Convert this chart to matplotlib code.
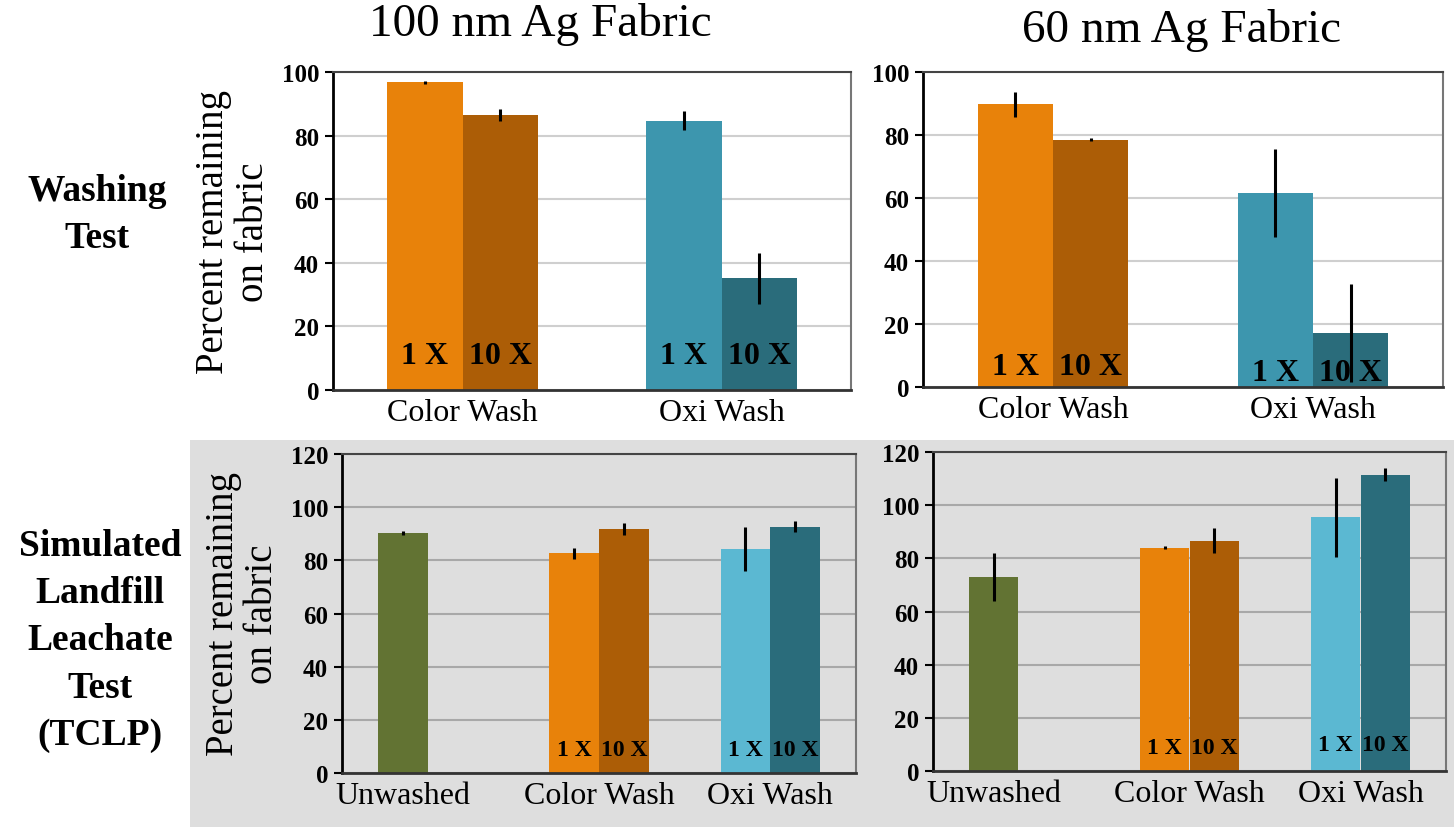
import matplotlib
matplotlib.use("Agg")
import matplotlib.pyplot as plt
import numpy as np
from matplotlib.patches import Rectangle

plt.rcParams['font.family'] = ['Liberation Serif', 'DejaVu Serif']

# Washing test data (percent remaining on fabric)
wash_cats = ['Color Wash', 'Oxi Wash']
wash100_1x = [96.8, 84.7]
wash100_1x_err = [0.5, 3.0]
wash100_10x = [86.5, 35.1]
wash100_10x_err = [2.0, 8.0]
wash60_1x = [89.7, 61.5]
wash60_1x_err = [4.0, 14.0]
wash60_10x = [78.5, 17.2]
wash60_10x_err = [0.5, 15.5]

# TCLP (landfill leachate) data
tclp_cats = ['Unwashed', 'Color Wash', 'Oxi Wash']
tclp100_1x = [90.3, 82.6, 84.3]
tclp100_1x_err = [0.8, 2.0, 8.2]
tclp100_10x = [np.nan, 91.8, 92.7]
tclp100_10x_err = [0, 2.3, 2.0]
tclp60_1x = [73.0, 84.0, 95.4]
tclp60_1x_err = [9.0, 0.5, 15.0]
tclp60_10x = [np.nan, 86.6, 111.5]
tclp60_10x_err = [0, 4.7, 2.4]

col_titles = ['100 nm Ag Fabric', '60 nm Ag Fabric']
row_titles = ['Washing\nTest', 'Simulated\nLandfill\nLeachate\nTest\n(TCLP)']

orange = '#E8820A'
brown = '#AC5D06'
teal = '#3D96AE'
dteal = '#2A6C7B'
lblue = '#5BB8D2'
green = '#627333'
grey_bg = '#DEDEDE'

fig = plt.figure(figsize=(14.54, 8.28), dpi=100)
fig.patch.set_facecolor('white')
fig.patches.append(Rectangle((190 / 1454, 0), 1 - 190 / 1454, 387 / 828,
                             transform=fig.transFigure, facecolor=grey_bg,
                             edgecolor='none', zorder=-10))

w = 0.29


def panel(rect, cats, v1, e1, v10, e10, c1, c10, ymax, bg, gridc, lab_size, lab_y, ylabel):
    ax = fig.add_axes(rect)
    ax.set_facecolor(bg)
    x = np.arange(len(cats))
    ax.bar(x - w / 2, v1, w, color=c1, zorder=2)
    ax.bar(x + w / 2, v10, w, color=c10, zorder=2)
    ax.errorbar(x - w / 2, v1, yerr=e1, fmt='none', ecolor='black', elinewidth=2.2, capsize=0, zorder=3)
    ax.errorbar(x + w / 2, v10, yerr=e10, fmt='none', ecolor='black', elinewidth=2.2, capsize=0, zorder=3)
    for i in range(len(cats)):
        if np.isnan(v10[i]):
            continue
        ax.text(x[i] - w / 2, lab_y[i], '1 X', ha='center', va='center',
                fontsize=lab_size, fontweight='bold', zorder=4)
        ax.text(x[i] + w / 2, lab_y[i], '10 X', ha='center', va='center',
                fontsize=lab_size, fontweight='bold', zorder=4)
    # single bars (no 10 X) get their label under the bar itself
    tick_x = [xi - w / 2 if np.isnan(v) else xi for xi, v in zip(x, v10)]
    ax.set_xlim(-0.5, len(cats) - 0.5)
    ax.set_ylim(0, ymax)
    ax.set_yticks(np.arange(0, ymax + 1, 20))
    ax.set_xticks(tick_x)
    ax.set_xticklabels(cats, fontsize=23)
    ax.tick_params(axis='x', length=0, pad=6)
    ax.tick_params(axis='y', direction='out', length=6, width=1.5, pad=4, labelsize=18)
    for t in ax.get_yticklabels():
        t.set_fontweight('bold')
    ax.yaxis.grid(True, color=gridc, linewidth=1.5, zorder=1)
    ax.set_axisbelow(True)
    ax.spines['left'].set_linewidth(2)
    ax.spines['bottom'].set_linewidth(2)
    ax.spines['left'].set_color('black')
    ax.spines['bottom'].set_color('#333333')
    ax.spines['top'].set_color('#444444')
    ax.spines['top'].set_linewidth(1.5)
    ax.spines['right'].set_color('#777777')
    ax.spines['right'].set_linewidth(1.5)
    if ylabel:
        ax.set_ylabel('Percent remaining\non fabric', fontsize=28, linespacing=1.1)
        ax.yaxis.set_label_coords(-0.118, 0.5)
    return ax


panel([333 / 1454, 1 - 391 / 828, 518 / 1454, 318 / 828], wash_cats,
      wash100_1x, wash100_1x_err, wash100_10x, wash100_10x_err,
      [orange, teal], [brown, dteal], 100, 'white', '#CFCFCF', 23, [11, 11], True)
panel([923 / 1454, 1 - 388 / 828, 520 / 1454, 315 / 828], wash_cats,
      wash60_1x, wash60_1x_err, wash60_10x, wash60_10x_err,
      [orange, teal], [brown, dteal], 100, 'white', '#CFCFCF', 23, [6.5, 4.5], False)
panel([342 / 1454, 1 - 774 / 828, 514 / 1454, 319 / 828], tclp_cats,
      tclp100_1x, tclp100_1x_err, tclp100_10x, tclp100_10x_err,
      [green, orange, lblue], [green, brown, dteal], 120, grey_bg, '#A8A8A8', 17, [9, 9, 9], True)
panel([933 / 1454, 1 - 772 / 828, 513 / 1454, 319 / 828], tclp_cats,
      tclp60_1x, tclp60_1x_err, tclp60_10x, tclp60_10x_err,
      [green, orange, lblue], [green, brown, dteal], 120, grey_bg, '#A8A8A8', 17, [9, 9, 10], False)

fig.text(540 / 1454, 1 - 25 / 828, col_titles[0], ha='center', va='center', fontsize=34)
fig.text(1182 / 1454, 1 - 30 / 828, col_titles[1], ha='center', va='center', fontsize=34)
fig.text(97 / 1454, 1 - 215 / 828, row_titles[0], ha='center', va='center',
         fontsize=27, fontweight='bold', linespacing=1.45)
fig.text(100 / 1454, 1 - 641 / 828, row_titles[1], ha='center', va='center',
         fontsize=27, fontweight='bold', linespacing=1.45)

fig.savefig('out.png', dpi=100)
